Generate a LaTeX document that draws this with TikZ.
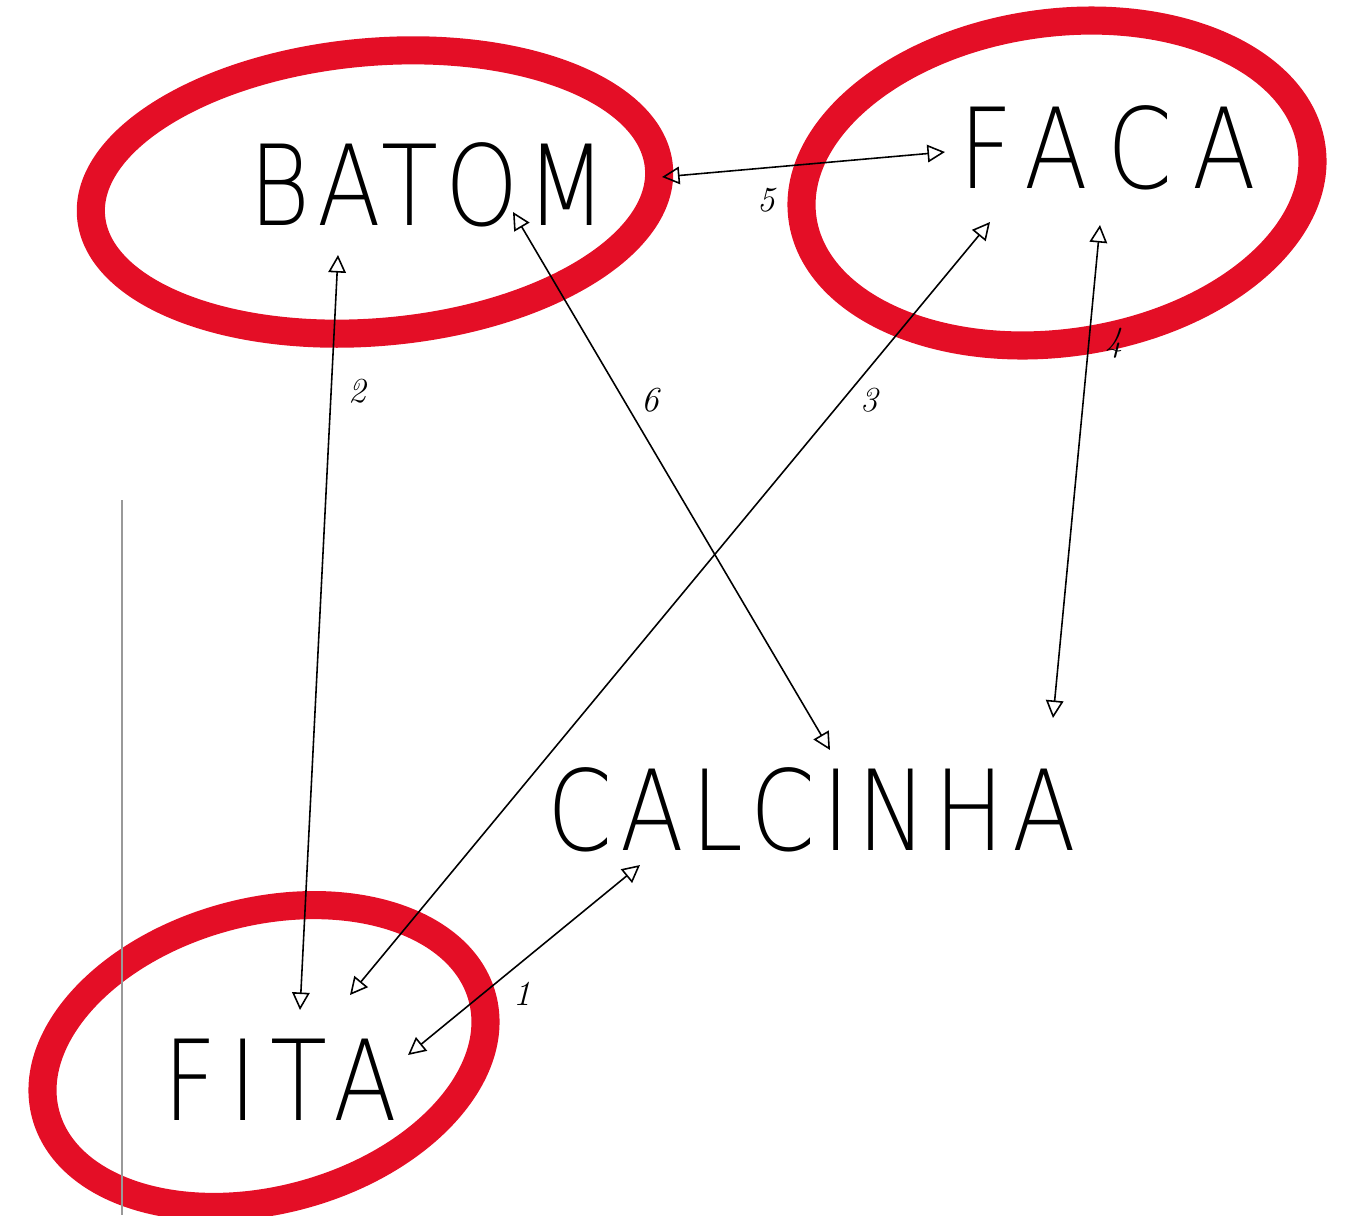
\documentclass[tikz,border=0pt]{standalone}
\usepackage{fontspec}
\usepackage{tikz}
\usetikzlibrary{arrows.meta}
\newfontfamily\handfont[LetterSpace=8]{DejaVu Sans ExtraLight}
\definecolor{crayon}{RGB}{228,14,38}

\begin{document}
\begin{tikzpicture}[x=0.02cm,y=-0.02cm,
   word/.style={font=\handfont\fontsize{53}{53}\selectfont,yscale=1.2},
   ring/.style={draw=crayon,line width=16pt},
   link/.style={{Triangle[open,length=10pt,width=10pt]}-{Triangle[open,length=10pt,width=10pt]},line width=0.9pt},
   num/.style={font=\itshape\fontsize{20}{20}\selectfont}]
   \useasboundingbox (0,0) rectangle (1345,1215);
   % red rings
   \draw[ring,rotate around={5:(375,192)}] (375,192) ellipse [x radius=285,y radius=140];
   \draw[ring,rotate around={8:(1057,183)}] (1057,183) ellipse [x radius=257,y radius=160];
   \draw[ring,rotate around={15:(264,1056)}] (264,1056) ellipse [x radius=226,y radius=144];
   % margin line of the sheet
   \draw[gray!80,line width=0.8pt] (122,500) -- (122,1215);
   % words
   \node[word] (batom)    at (428,185)  {BATOM};
   \node[word] (faca)     at (1108,148) {\addfontfeature{LetterSpace=22}FACA};
   \node[word] (calcinha) at (812,810)  {CALCINHA};
   \node[word] (fita)     at (280,1080) {\addfontfeature{LetterSpace=14}FITA};
   % links
   \draw[link] ([shift={(-90,70)}]batom.center) -- node[num,pos=.18,right=6pt] {2} ([shift={(20,-70)}]fita.center);
   \draw[link] ([shift={(85,27)}]batom.center) -- node[num,pos=.35,right=6pt] {6} ([shift={(18,-60)}]calcinha.center);
   \draw[link] ([shift={(-118,74)}]faca.center) -- node[num,pos=.23,right=6pt] {3} ([shift={(70,-85)}]fita.center);
   \draw[link] ([shift={(-8,77)}]faca.center) -- node[num,pos=.24,right=6pt] {4} ([shift={(241,-92)}]calcinha.center);
   \draw[link] ([shift={(234,-8)}]batom.center) -- node[num,pos=.37,below=8pt] {5} ([shift={(-163,4)}]faca.center);
   \draw[link] ([shift={(-172,55)}]calcinha.center) -- node[num,pos=.68,right=14pt] {1} ([shift={(128,-25)}]fita.center);
\end{tikzpicture}
\end{document}
